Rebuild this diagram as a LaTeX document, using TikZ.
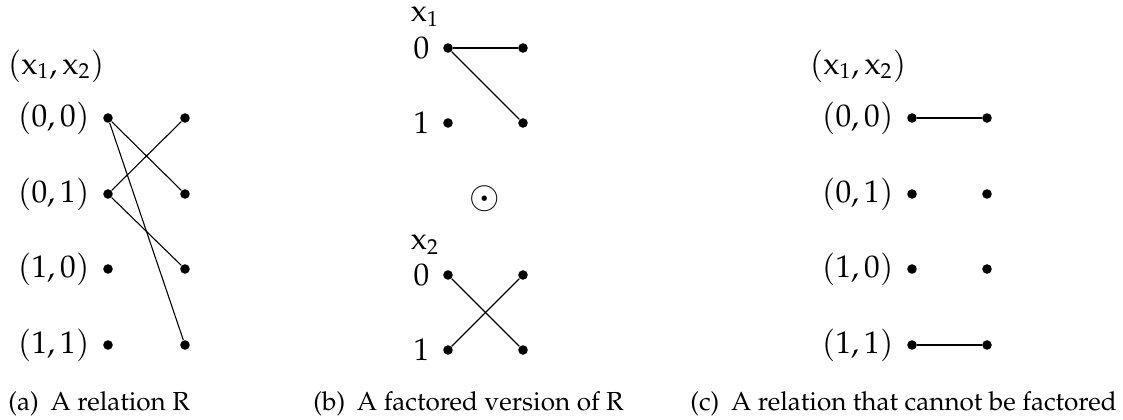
\documentclass[tikz,border=0pt]{standalone}
\usepackage[T1]{fontenc}
\usepackage{amsmath}
\usepackage{mathpazo}
\usepackage{tikz}
\usetikzlibrary{positioning}

\begin{document}
\begin{tikzpicture}[
        x=0.46pt, y=-0.46pt,
        dot/.style={circle, fill=black, inner sep=0pt, minimum size=4.4pt},
        val_label/.style={inner sep=0pt, font=\Large},
        head_label/.style={inner sep=0pt, font=\Large},
        caption_text/.style={anchor=base west, inner sep=0pt, font=\large},
        link/.style={line width=0.5pt, draw=black}
    ]
        \useasboundingbox (0,0) rectangle (1123,420);

        % (a) the relation R
        \node (a_head) at (56, 66) [head_label] {$(\mathrm{x}_1, \mathrm{x}_2)$};
        \node (a_l1) at (108, 118) [dot] {};
        \node (a_l2) at (108, 194) [dot] {};
        \node (a_l3) at (108, 269) [dot] {};
        \node (a_l4) at (108, 345) [dot] {};
        \node (a_r1) at (185, 118) [dot] {};
        \node (a_r2) at (185, 194) [dot] {};
        \node (a_r3) at (185, 269) [dot] {};
        \node (a_r4) at (185, 345) [dot] {};
        \node (a_v1) [val_label, left=6pt of a_l1] {$(0,0)$};
        \node (a_v2) [val_label, left=6pt of a_l2] {$(0,1)$};
        \node (a_v3) [val_label, left=6pt of a_l3] {$(1,0)$};
        \node (a_v4) [val_label, left=6pt of a_l4] {$(1,1)$};

        \draw [link] (a_l1) -- (a_r2);
        \draw [link] (a_l1) -- (a_r4);
        \draw [link] (a_l2) -- (a_r1);
        \draw [link] (a_l2) -- (a_r3);

        % (b) factored version
        \node (b_head1) at (425, 17) [head_label] {$\mathrm{x}_1$};
        \node (b_t1) at (448, 48) [dot] {};
        \node (b_t2) at (448, 123) [dot] {};
        \node (b_u1) at (523, 48) [dot] {};
        \node (b_u2) at (523, 123) [dot] {};
        \node (b_tv1) [val_label, left=6pt of b_t1] {$0$};
        \node (b_tv2) [val_label, left=6pt of b_t2] {$1$};

        \node (b_prod) at (485, 199) [inner sep=0pt, font=\LARGE] {$\odot$};

        \node (b_head2) at (425, 245) [head_label] {$\mathrm{x}_2$};
        \node (b_s1) at (448, 275) [dot] {};
        \node (b_s2) at (448, 350) [dot] {};
        \node (b_w1) at (523, 275) [dot] {};
        \node (b_w2) at (523, 350) [dot] {};
        \node (b_sv1) [val_label, left=6pt of b_s1] {$0$};
        \node (b_sv2) [val_label, left=6pt of b_s2] {$1$};

        \draw [link] (b_t1) -- (b_u1);
        \draw [link] (b_t1) -- (b_u2);
        \draw [link] (b_s1) -- (b_w2);
        \draw [link] (b_s2) -- (b_w1);

        % (c) relation that does not factor
        \node (c_head) at (858, 66) [head_label] {$(\mathrm{x}_1, \mathrm{x}_2)$};
        \node (c_l1) at (912, 118) [dot] {};
        \node (c_l2) at (912, 194) [dot] {};
        \node (c_l3) at (912, 269) [dot] {};
        \node (c_l4) at (912, 345) [dot] {};
        \node (c_r1) at (987, 118) [dot] {};
        \node (c_r2) at (987, 194) [dot] {};
        \node (c_r3) at (987, 269) [dot] {};
        \node (c_r4) at (987, 345) [dot] {};
        \node (c_v1) [val_label, left=6pt of c_l1] {$(0,0)$};
        \node (c_v2) [val_label, left=6pt of c_l2] {$(0,1)$};
        \node (c_v3) [val_label, left=6pt of c_l3] {$(1,0)$};
        \node (c_v4) [val_label, left=6pt of c_l4] {$(1,1)$};

        \draw [link] (c_l1) -- (c_r1);
        \draw [link] (c_l4) -- (c_r4);

        % Captions
        \node (cap_a) at (8, 410) [caption_text] {(a)\hspace{0.45em}A relation R};
        \node (cap_b) at (313, 410) [caption_text] {(b)\hspace{0.45em}A factored version of R};
        \node (cap_c) at (690, 410) [caption_text] {(c)\hspace{0.45em}A relation that cannot be factored};

    \end{tikzpicture}
\end{document}
